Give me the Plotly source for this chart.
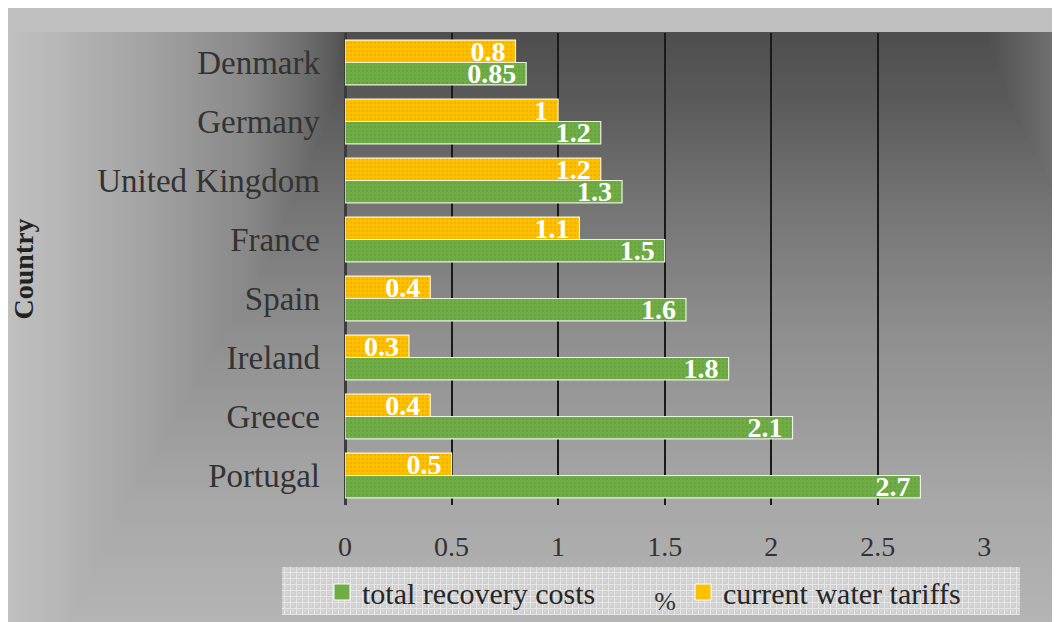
import base64
import plotly.graph_objects as go

# ---- data ----
countries = ["Denmark", "Germany", "United Kingdom", "France", "Spain", "Ireland", "Greece", "Portugal"]
total_recovery = [0.85, 1.2, 1.3, 1.5, 1.6, 1.8, 2.1, 2.7]
water_tariffs = [0.8, 1, 1.2, 1.1, 0.4, 0.3, 0.4, 0.5]
x_ticks = [0, 0.5, 1, 1.5, 2, 2.5, 3]
x_tick_labels = ["0", "0.5", "1", "1.5", "2", "2.5", "3"]
series_names = ["total recovery costs", "current water tariffs"]
series_colors = ["#70AD47", "#FFC000"]

W, H = 1052, 614
L, R, T, B = 337, 977, 25, 497  # plot area in px (figure coords)

FONT = "Liberation Serif, Times New Roman, serif"

# ---- background (gradient) as svg image ----
svg = f"""<svg xmlns='http://www.w3.org/2000/svg' width='{W}' height='{H}' viewBox='0 0 {W} {H}'>
<defs>
<linearGradient id='v' gradientUnits='userSpaceOnUse' x1='0' y1='24' x2='0' y2='614'>
<stop offset='0' stop-color='#4e4e4e'/>
<stop offset='0.115' stop-color='#5a5a5a'/>
<stop offset='0.285' stop-color='#737373'/>
<stop offset='0.505' stop-color='#8e8e8e'/>
<stop offset='0.8' stop-color='#a8a8a8'/>
<stop offset='1' stop-color='#b4b4b4'/>
</linearGradient>
<linearGradient id='hl' gradientUnits='userSpaceOnUse' x1='0' y1='0' x2='339' y2='0'>
<stop offset='0' stop-color='#c0c0c0'/>
<stop offset='0.13' stop-color='#b8b8b8'/>
<stop offset='0.42' stop-color='#a2a2a2'/>
<stop offset='0.71' stop-color='#888888'/>
<stop offset='0.86' stop-color='#707070'/>
<stop offset='0.95' stop-color='#5e5e5e'/>
<stop offset='1' stop-color='#4d4d4d'/>
</linearGradient>
<linearGradient id='hr' gradientUnits='userSpaceOnUse' x1='977' y1='0' x2='1052' y2='0'>
<stop offset='0' stop-color='#4e4e4e'/>
<stop offset='1' stop-color='#747474'/>
</linearGradient>
<pattern id='p' width='6' height='6' patternUnits='userSpaceOnUse'>
<rect width='6' height='6' fill='#cfcfcf'/>
<rect x='2' y='2' width='2' height='2' fill='#d9d9d9'/>
<path d='M0 0.5H6M0.5 0V6' stroke='#e6e6e6' stroke-width='1'/>
</pattern>
</defs>
<rect width='{W}' height='{H}' fill='#c0c0c0'/>
<g style='isolation:isolate'>
<rect x='0' y='24' width='{W}' height='{H-24}' fill='url(#v)'/>
<rect x='0' y='24' width='339' height='{H-24}' fill='url(#hl)' style='mix-blend-mode:lighten'/>
<rect x='977' y='24' width='{W-977}' height='{H-24}' fill='url(#hr)' style='mix-blend-mode:lighten'/>
</g>
<rect x='274' y='559' width='738' height='48' fill='url(#p)'/>
</svg>"""
svg_uri = "data:image/svg+xml;base64," + base64.b64encode(svg.encode()).decode()

pw, ph = R - L, B - T

fig = go.Figure()
bar_specs = [
    (total_recovery, series_names[0], series_colors[0], "#e8f0e0", "#5f9a3a"),
    (water_tariffs, series_names[1], series_colors[1], "#fff4d0", "#dba600"),
]
for vals, name, col, edge, fg in bar_specs:
    fig.add_trace(go.Bar(
        y=countries, x=vals, orientation="h", name=name, showlegend=False,
        marker=dict(color=col, line=dict(color=edge, width=1.2),
                    pattern=dict(shape=".", fgcolor=fg, bgcolor=col, size=4, solidity=0.35)),
        text=[f"{v:g}" for v in vals], texttemplate="%{text}\u00a0",
        textposition="inside", insidetextanchor="end",
        constraintext="none", textangle=0,
        textfont=dict(family=FONT, size=28, color="white", weight="bold"),
        hoverinfo="x+y",
    ))
# legend entries (square swatches like the reference)
for name, col in zip(series_names, series_colors):
    fig.add_trace(go.Scatter(
        x=[None], y=[None], mode="markers", name=name,
        marker=dict(symbol="square", size=16, color=col, line=dict(color="white", width=1)),
        hoverinfo="skip",
    ))

fig.update_layout(
    width=W, height=H,
    margin=dict(l=L, r=W - R, t=T, b=H - B, autoexpand=False),
    paper_bgcolor="#c0c0c0", plot_bgcolor="rgba(0,0,0,0)",
    barmode="group", bargap=0.24, bargroupgap=0,
    font=dict(family=FONT, color="#333333"),
    images=[dict(source=svg_uri, xref="paper", yref="paper",
                 x=-L / pw, y=1 + T / ph, sizex=W / pw, sizey=H / ph,
                 xanchor="left", yanchor="top", sizing="stretch", layer="below")],
    legend=dict(orientation="h", x=(314 - L) / pw, xanchor="left",
                y=(B - 584) / ph, yanchor="middle",
                bgcolor="rgba(0,0,0,0)", borderwidth=0,
                font=dict(family=FONT, size=30, color="#262626"),
                entrywidthmode="pixels", entrywidth=316,
                traceorder="normal"),
    showlegend=True,
)
fig.update_xaxes(
    range=[0, 3.003], tickvals=x_ticks, ticktext=x_tick_labels,
    showgrid=True, gridcolor="#1a1a1a", gridwidth=1.6,
    zeroline=True, zerolinecolor="#3c3c3c", zerolinewidth=3,
    showline=False, ticks="", ticklabelstandoff=22,
    tickfont=dict(family=FONT, size=28, color="#333333"),
    title=dict(text="%", font=dict(family=FONT, size=26, color="#333333"), standoff=30),
    automargin=False, fixedrange=True,
)
fig.update_yaxes(
    categoryorder="array", categoryarray=countries[::-1],
    showgrid=False, zeroline=False, showline=False, ticks="",
    ticklabelstandoff=24,
    tickfont=dict(family=FONT, size=33, color="#333333"),
    title=dict(text="Country", font=dict(family=FONT, size=28, color="#222222", weight="bold"), standoff=56),
    automargin=False, fixedrange=True,
)

fig.write_html("out.html")
